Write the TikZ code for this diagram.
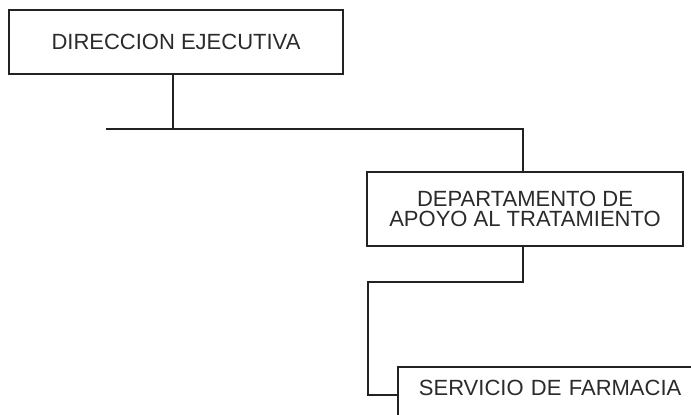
\documentclass[tikz,border=0pt]{standalone}
\usepackage{fontspec}
\setmainfont{Liberation Sans}
\begin{document}
\begin{tikzpicture}[x=1pt,y=-1pt,
  orgbox/.style={draw=linec, line width=1.8pt, inner sep=0pt, text=textc,
    font=\fontsize{22}{20.5}\selectfont, align=center},
  conn/.style={draw=linec, line width=1.8pt}]
\definecolor{linec}{HTML}{222222}
\definecolor{textc}{HTML}{2b2b2b}
\useasboundingbox (0,0) rectangle (691,415);
\clip (0,0) rectangle (691,415);
\fill[white] (0,0) rectangle (691,415);
\node[orgbox, minimum width=334pt, minimum height=64pt] (dir) at (176,42) {DIRECCION EJECUTIVA};
\node[orgbox, minimum width=316pt, minimum height=74pt] (dep) at (525,209) {DEPARTAMENTO DE\\APOYO AL TRATAMIENTO};
\node[orgbox, anchor=north west, inner xsep=21pt, text width=300pt, align=left,
  text height=29pt, text depth=45pt] (serv) at (397,366) {SERVICIO DE FARMACIA};
\coordinate (j1) at (173,129);
\coordinate (barL) at (106,129);
\coordinate (barR) at (523,129);
\coordinate (j2) at (523,282);
\coordinate (j3) at (368,282);
\coordinate (j4) at (368,395);
\draw[conn] (dir.south -| j1) -- (j1);
\draw[conn] (barL) -- (barR) -- (barR |- dep.north);
\draw[conn] (j2 |- dep.south) -- (j2) -- (j3) -- (j4) -- (serv.west |- j4);
\end{tikzpicture}
\end{document}
